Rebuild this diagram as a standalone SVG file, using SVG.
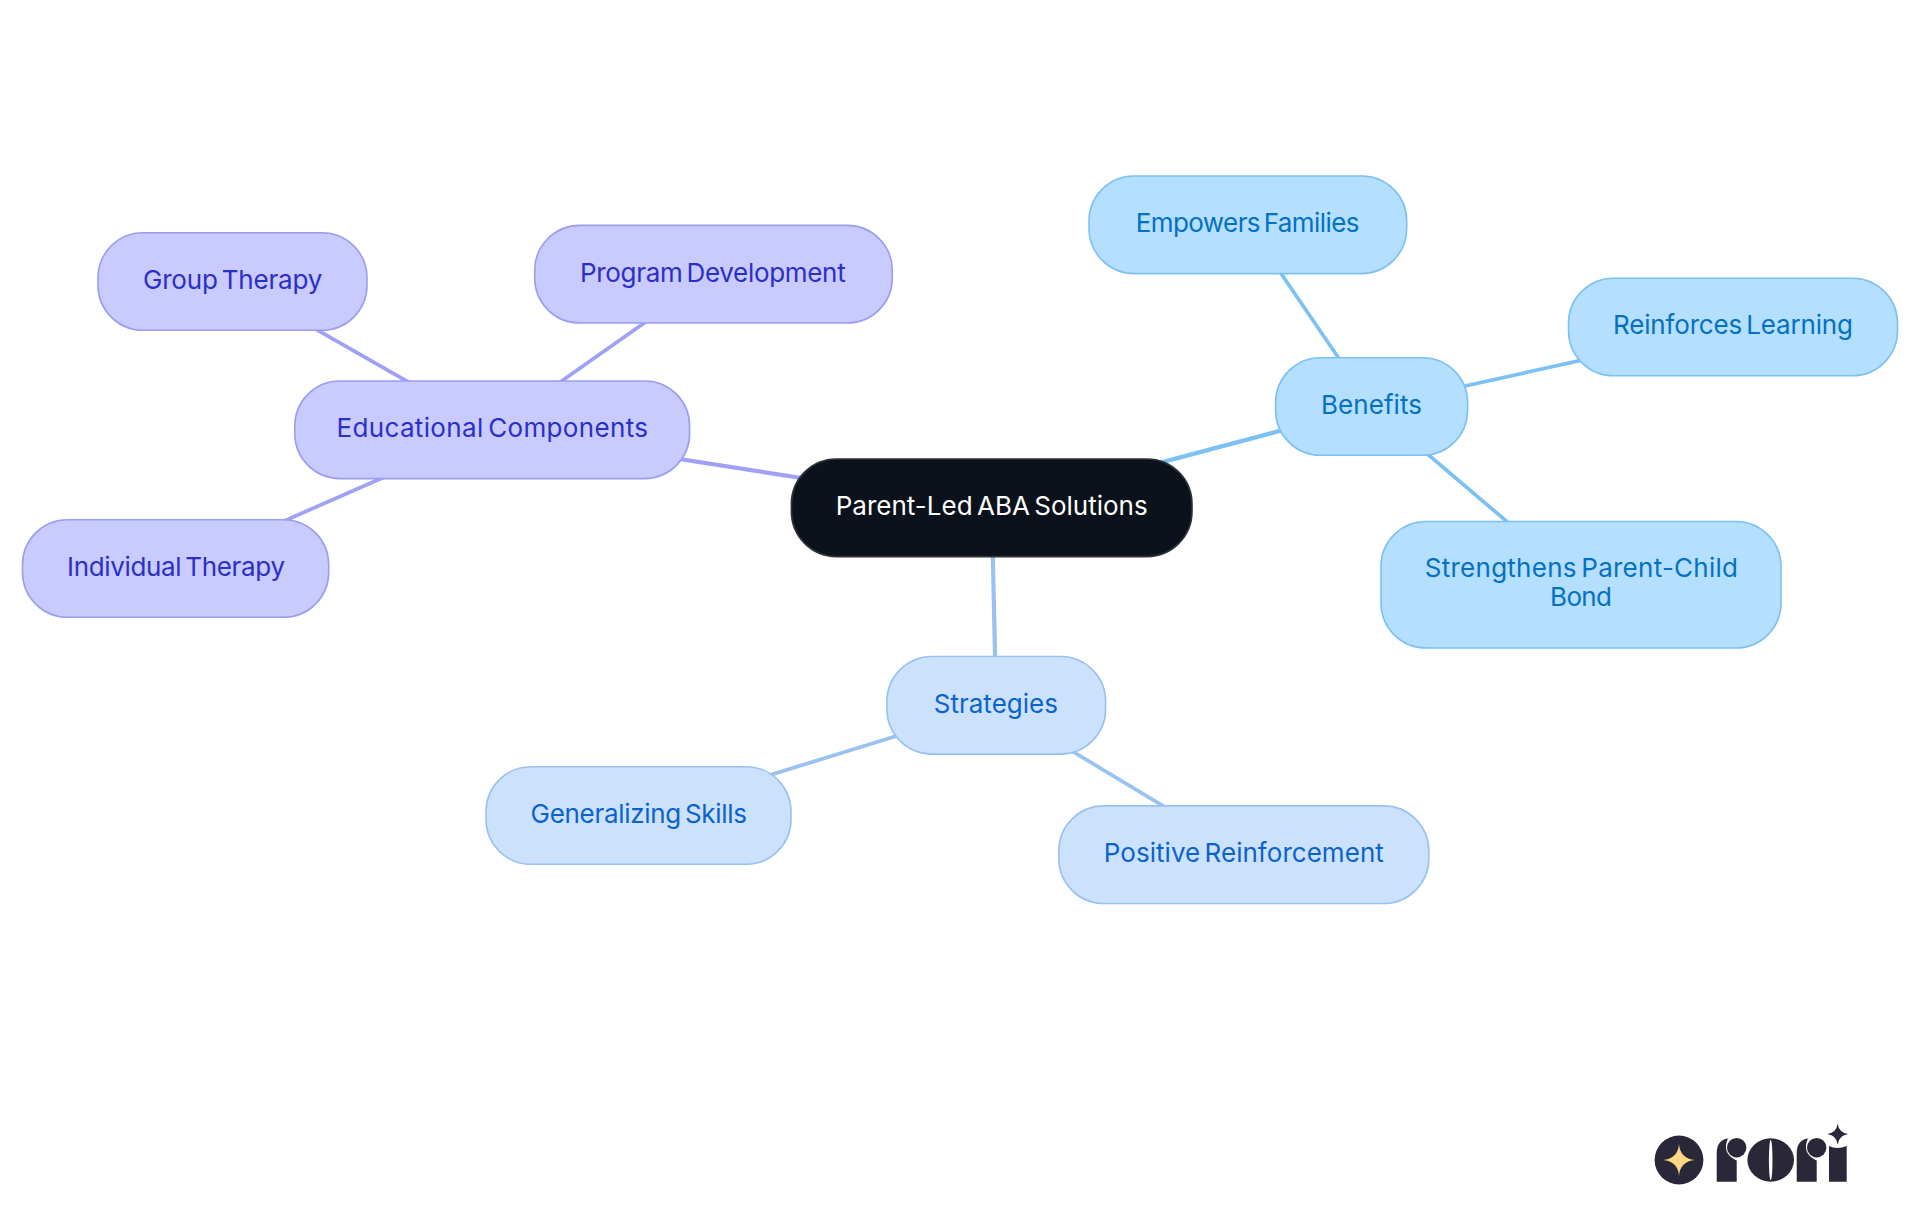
<svg xmlns="http://www.w3.org/2000/svg" width="1920" height="1215" viewBox="0 0 1920 1215">
<style>
text{font-family:"Inter","Noto Sans","Liberation Sans",sans-serif;font-size:26px;font-weight:400;word-spacing:-3px}
.n rect{stroke-width:1.6}
.root rect{fill:#0c121b;stroke:#2e3238}.root text{fill:#fff}
.pur rect{fill:#c9cafd;stroke:#9b9df2}.pur text{fill:#2b2fc9}
.sky rect{fill:#b4dfff;stroke:#7cc1f4}.sky text{fill:#0471c2}
.blu rect{fill:#cce2fc;stroke:#99c2f2}.blu text{fill:#0b62cc}
line{fill:none;stroke-linecap:butt}
.e1{stroke-width:4.2}.e2{stroke-width:3.7}
.lp{stroke:#9fa1f5}.ls{stroke:#7cc1f4}.lb{stroke:#99c2f2}
.dark{fill:#2a2838}.w{fill:#fff}
</style>
<rect width="1920" height="1215" fill="#fff"/>
<g id="connectors">
<line class="e1 lp" x1="991.7" y1="507.5" x2="492.2" y2="429.8"/>
<line class="e1 ls" x1="991.7" y1="507.5" x2="1371.6" y2="406.5"/>
<line class="e1 lb" x1="991.7" y1="507.5" x2="996.2" y2="705.3"/>
<line class="e2 lp" x1="492.2" y1="429.8" x2="232.5" y2="281.5"/>
<line class="e2 lp" x1="492.2" y1="429.8" x2="713.5" y2="274.2"/>
<line class="e2 lp" x1="492.2" y1="429.8" x2="175.6" y2="568.5"/>
<line class="e2 ls" x1="1371.6" y1="406.5" x2="1247.8" y2="224.7"/>
<line class="e2 ls" x1="1371.6" y1="406.5" x2="1733" y2="327"/>
<line class="e2 ls" x1="1371.6" y1="406.5" x2="1581" y2="584.6"/>
<line class="e2 lb" x1="996.2" y1="705.3" x2="638.5" y2="815.5"/>
<line class="e2 lb" x1="996.2" y1="705.3" x2="1243.8" y2="854.7"/>
</g>
<g id="root" class="n root"><rect x="791.4" y="459" width="400.6" height="97.6" rx="45"/><text x="835.7" y="515" textLength="312">Parent-Led ABA Solutions</text></g>
<g id="educational" class="n pur"><rect x="294.8" y="381" width="394.8" height="97.6" rx="45"/><text x="336.5" y="436.7" textLength="311.5">Educational Components</text></g>
<g id="group-therapy" class="n pur"><rect x="98" y="232.7" width="269" height="97.6" rx="45"/><text x="143" y="289.3" textLength="179.3">Group Therapy</text></g>
<g id="program-development" class="n pur"><rect x="534.7" y="225.4" width="357.6" height="97.6" rx="45"/><text x="580" y="282.3" textLength="265.7">Program Development</text></g>
<g id="individual-therapy" class="n pur"><rect x="22.5" y="519.7" width="306.2" height="97.6" rx="45"/><text x="67" y="576" textLength="218">Individual Therapy</text></g>
<g id="benefits" class="n sky"><rect x="1275.6" y="357.7" width="192" height="97.6" rx="45"/><text x="1321" y="414" textLength="101">Benefits</text></g>
<g id="empowers-families" class="n sky"><rect x="1089" y="176" width="317.7" height="97.6" rx="45"/><text x="1135.7" y="231.7" textLength="223.8">Empowers Families</text></g>
<g id="reinforces-learning" class="n sky"><rect x="1568.5" y="278.2" width="329" height="97.6" rx="45"/><text x="1613" y="333.7" textLength="240">Reinforces Learning</text></g>
<g id="strengthens-bond" class="n sky"><rect x="1381" y="521.5" width="400" height="126.5" rx="45"/><text x="1424.8" y="576.7" textLength="313.2">Strengthens Parent-Child</text><text x="1550" y="605.7" textLength="62">Bond</text></g>
<g id="strategies" class="n blu"><rect x="886.9" y="656.5" width="218.7" height="97.6" rx="45"/><text x="933.7" y="712.7" textLength="124.3">Strategies</text></g>
<g id="generalizing-skills" class="n blu"><rect x="486" y="766.7" width="305" height="97.6" rx="45"/><text x="530.6" y="823" textLength="216.4">Generalizing Skills</text></g>
<g id="positive-reinforcement" class="n blu"><rect x="1058.8" y="805.9" width="370" height="97.6" rx="45"/><text x="1103.8" y="861.7" textLength="280">Positive Reinforcement</text></g>
<g id="logo">
<circle class="dark" cx="1679" cy="1160" r="24.4"/>
<path fill="#fbd784" d="M1679 1144Q1680 1158.5 1695 1160Q1680 1161.5 1679 1176Q1678 1161.5 1663 1160Q1678 1158.5 1679 1144Z"/>
<path class="dark" d="M1716.7 1181.7V1153Q1716.7 1140 1728 1138.4Q1721 1153 1736.7 1160.5V1181.7Z"/>
<circle class="dark" cx="1736.7" cy="1147.7" r="9.7"/>
<ellipse class="dark" cx="1770.7" cy="1160" rx="23.3" ry="21.7"/>
<ellipse class="w" cx="1770.7" cy="1160" rx="1.8" ry="20"/>
<path class="dark" d="M1796.7 1181.7V1153Q1796.7 1140 1808 1138.4Q1801 1153 1816.7 1160.5V1181.7Z"/>
<circle class="dark" cx="1816.7" cy="1147.7" r="9.7"/>
<path class="dark" d="M1829 1181.7V1146Q1837 1150 1846.7 1146V1181.7Z"/>
<path class="dark" d="M1837.7 1123.5Q1838.8 1132.6 1848.2 1134Q1838.8 1135.4 1837.7 1144.5Q1836.6 1135.4 1827.2 1134Q1836.6 1132.6 1837.7 1123.5Z"/>
</g>
</svg>
